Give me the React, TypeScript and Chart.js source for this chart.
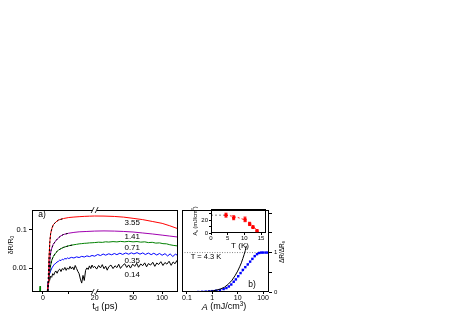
import React, { useEffect, useRef } from "react";
import { Chart, registerables } from "chart.js";
Chart.register(...registerables);

const FONT = '"Liberation Sans", Arial, sans-serif';

// ---------- Panel a (time traces) ----------
const redT = [1.5, 2, 2.3, 2.7, 3, 3.5, 4, 5, 6, 7, 8, 10, 12, 14, 16, 18, 20, 25, 32, 40, 50, 63, 80, 100, 120, 146];
const redV = [0.0015, 0.004, 0.015, 0.05, 0.08, 0.11, 0.135, 0.16, 0.18, 0.19, 0.198, 0.21, 0.216, 0.221, 0.225, 0.228, 0.23, 0.229, 0.224, 0.215, 0.2, 0.185, 0.165, 0.148, 0.128, 0.107];

const purT = [1.5, 2, 2.5, 2.8, 3.2, 4, 5, 6, 7, 8, 10, 12, 14, 17, 20, 25, 32, 40, 50, 63, 80, 100, 120, 146];
const purV = [0.0015, 0.003, 0.01, 0.02, 0.03, 0.042, 0.052, 0.062, 0.07, 0.076, 0.082, 0.086, 0.089, 0.091, 0.093, 0.094, 0.093, 0.091, 0.088, 0.083, 0.078, 0.073, 0.069, 0.065];

const grnT = [1.5, 2, 2.5, 3, 3.5, 4, 5, 6, 7, 8, 9, 10, 11, 12, 13, 14, 15, 16, 17, 18, 19, 20, 22, 24, 26, 28, 31, 34, 37, 41, 45, 50, 55, 60, 66, 72, 79, 86, 94, 102, 111, 120, 130, 146];
const grnV = [0.0015, 0.003, 0.007, 0.012, 0.0165, 0.02, 0.0255, 0.0295, 0.0325, 0.035, 0.0368, 0.0385, 0.0398, 0.041, 0.042, 0.0432, 0.0438, 0.0446, 0.045, 0.0458, 0.0461, 0.0467, 0.0478, 0.0472, 0.0489, 0.0481, 0.0495, 0.0486, 0.0501, 0.0489, 0.0503, 0.0488, 0.0497, 0.0479, 0.0488, 0.0466, 0.0474, 0.0452, 0.0458, 0.0437, 0.0433, 0.041, 0.0395, 0.038];

const bluT = [1.5, 2, 2.5, 3, 3.5, 4, 4.5, 5, 5.5, 6, 6.5, 7, 7.5, 8, 8.5, 9, 9.5, 10, 11, 12, 13, 14, 15, 16, 17, 18, 19, 20, 21.5, 23, 24.5, 26, 28, 30, 32, 34, 36.5, 39, 42, 45, 48, 51, 55, 59, 63, 67, 72, 77, 82, 88, 94, 100, 107, 114, 121, 129, 137, 146];
const bluV = [0.0015, 0.004, 0.0068, 0.0085, 0.0102, 0.0115, 0.0128, 0.0134, 0.0146, 0.0151, 0.0163, 0.0158, 0.0172, 0.0167, 0.018, 0.0174, 0.0186, 0.0179, 0.0192, 0.0185, 0.0198, 0.019, 0.0204, 0.0196, 0.021, 0.0201, 0.0215, 0.0206, 0.0228, 0.0214, 0.0235, 0.0219, 0.0238, 0.0224, 0.0242, 0.0226, 0.0247, 0.0229, 0.025, 0.0232, 0.0252, 0.0236, 0.0255, 0.0233, 0.0251, 0.0228, 0.0249, 0.0226, 0.0246, 0.0221, 0.0243, 0.0218, 0.024, 0.0209, 0.0237, 0.0202, 0.0232, 0.0215];

const blkT = [1.3, 1.5, 1.8, 2, 2.3, 2.6, 3, 3.4, 3.8, 4.2, 4.6, 5, 5.5, 6, 6.5, 7, 7.5, 8, 8.5, 9, 9.5, 10, 10.5, 11, 11.5, 12, 12.5, 13, 13.5, 14, 14.5, 15, 15.5, 16, 16.5, 17, 17.5, 18, 18.5, 19, 19.5, 20, 21, 22, 23, 24, 25, 26, 27, 28, 29.5, 31, 32.5, 34, 35.5, 37, 39, 41, 43, 45, 47, 49.5, 52, 54.5, 57, 60, 63, 66, 69, 72, 76, 80, 84, 88, 92, 97, 102, 107, 112, 118, 124, 130, 136, 142, 146];
const blkV = [0.001, 0.0015, 0.003, 0.0045, 0.0055, 0.0048, 0.0062, 0.0058, 0.0072, 0.0066, 0.0078, 0.0085, 0.0074, 0.0088, 0.0095, 0.0082, 0.0098, 0.0091, 0.0105, 0.0088, 0.0102, 0.0094, 0.0112, 0.0096, 0.0108, 0.0091, 0.0118, 0.0099, 0.0083, 0.0072, 0.0052, 0.0041, 0.0065, 0.0048, 0.0088, 0.0102, 0.0093, 0.0115, 0.0098, 0.0121, 0.0104, 0.0112, 0.0095, 0.0118, 0.0102, 0.0124, 0.0097, 0.0113, 0.0089, 0.0109, 0.0121, 0.0098, 0.0116, 0.0104, 0.0127, 0.0099, 0.0118, 0.0131, 0.0105, 0.0122, 0.0101, 0.0128, 0.0112, 0.0135, 0.0106, 0.0129, 0.0117, 0.0138, 0.0109, 0.0132, 0.0121, 0.0143, 0.0112, 0.0137, 0.0125, 0.0148, 0.0118, 0.0141, 0.0128, 0.0152, 0.0119, 0.0146, 0.0131, 0.0158, 0.0127];

const fitRedT = [1.8, 2, 2.3, 2.7, 3, 3.5, 4, 5, 6, 8];
const fitRedV = [0.002, 0.004, 0.015, 0.05, 0.08, 0.11, 0.135, 0.16, 0.18, 0.198];
const fitPurT = [1.8, 2, 2.5, 2.8, 3.2, 4, 5, 6, 7, 8, 10];
const fitPurV = [0.002, 0.003, 0.01, 0.02, 0.03, 0.042, 0.052, 0.062, 0.07, 0.076, 0.082];
const fitGrnT = [1.8, 2, 2.5, 3, 3.5, 4, 5, 6, 7, 8, 10, 12];
const fitGrnV = [0.002, 0.003, 0.007, 0.012, 0.0165, 0.02, 0.0255, 0.0295, 0.0325, 0.035, 0.0385, 0.041];

const spikeT = [-1.3, -1.1, -0.9];
const spikeV = [0.0022, 0.0034, 0.0022];

const aXTicks = [0, 10, 20, 50, 100];
const aXLabels = ["0", "", "20", "50", "100"];
const aYTicks = [0.01, 0.1];
const aYLabels = ["0.01", "0.1"];

const curveLabels = ["3.55", "1.41", "0.71", "0.35", "0.14"];
const curveLabelT = [49, 49, 49, 49, 49];
const curveLabelV = [0.151, 0.066, 0.0346, 0.016, 0.0066];

// ---------- Panel b (fluence dependence) ----------
const bPtA = [0.28, 0.4, 0.55, 0.75, 1, 1.4, 2, 2.8, 3.6, 4.5, 5.6, 7, 8.5, 10.5, 13, 16, 20, 25, 31, 38, 47, 58, 70, 85, 100, 125, 150];
const bPtV = [0.0, 0.005, 0.01, 0.015, 0.022, 0.032, 0.05, 0.075, 0.1, 0.14, 0.19, 0.26, 0.32, 0.4, 0.48, 0.56, 0.63, 0.7, 0.77, 0.84, 0.91, 0.96, 0.99, 1.0, 1.0, 1.0, 1.0];
const bFitA = [0.1, 0.3, 1, 2, 3, 5, 8, 12, 18, 25, 35, 50, 70, 90];
const bFitV = [0, 0.003, 0.02, 0.05, 0.085, 0.16, 0.3, 0.44, 0.58, 0.69, 0.8, 0.91, 0.98, 1.0];
const blkA = [0.1, 0.2, 0.5, 1, 2, 3, 4.3, 6, 8, 10, 12, 14, 16, 18, 20, 22];
const blkBV = [0, 0.003, 0.01, 0.025, 0.07, 0.12, 0.2, 0.3, 0.42, 0.53, 0.64, 0.74, 0.85, 0.95, 1.05, 1.17];
const satA = [0.064, 172];
const satV = [1, 1];
const bXTicks = [0.1, 1, 10, 100];
const bXLabels = ["0.1", "1", "10", "100"];
const bYTicks = [0, 0.5, 1, 1.5, 2];
const bYLabels = ["0", "", "1", "", ""];

// ---------- Inset (A_s vs T) ----------
const inT = [4.5, 6.8, 10.2, 11.6, 12.6, 13.8];
const inA = [27.5, 23.5, 21, 14, 9, 3.5];
const inErr = [3, 3, 3.5, 2.5, 2, 1.5];
const inFitT = [4.5, 6, 8, 10, 11, 12, 13, 13.7, 14.3, 14.6];
const inFitA = [27.5, 26.3, 24, 20.5, 17.5, 13.5, 8.5, 4.5, 1.2, 0];
const inBaseT = [0, 4.5];
const inBaseA = [27.5, 27.5];
const cXTicks = [0, 5, 10, 15];
const cYTicks = [0, 10, 20, 30];
const cYLabels = ["0", "", "20", ""];

// broken time axis: linear up to 20 ps, logarithmic afterwards
const K = 37.3;
const tx = (t: number) => (t <= 20 ? t : 20 + K * Math.log10(t / 20));

type Part = { t: string; sub?: boolean; sup?: boolean; italic?: boolean };
function drawRich(ctx: CanvasRenderingContext2D, parts: Part[], cx: number, cy: number, size: number, rot = 0) {
  ctx.save();
  ctx.translate(cx, cy);
  ctx.rotate(rot);
  const fontOf = (p: Part) => `${p.italic ? "italic " : ""}${p.sub || p.sup ? size * 0.7 : size}px ${FONT}`;
  let total = 0;
  for (const p of parts) {
    ctx.font = fontOf(p);
    total += ctx.measureText(p.t).width;
  }
  let x = -total / 2;
  ctx.textAlign = "left";
  ctx.textBaseline = "middle";
  ctx.fillStyle = "#000";
  for (const p of parts) {
    ctx.font = fontOf(p);
    const dy = p.sub ? size * 0.3 : p.sup ? -size * 0.35 : 0;
    ctx.fillText(p.t, x, dy);
    x += ctx.measureText(p.t).width;
  }
  ctx.restore();
}

const pts = (xs: number[], ys: number[], f = (v: number) => v) => xs.map((x, i) => ({ x: f(x), y: ys[i] }));

const lineDs = (data: any, color: string, extra: any = {}) => ({
  data,
  borderColor: color,
  backgroundColor: color,
  borderWidth: 1,
  pointRadius: 0,
  tension: 0,
  ...extra,
});

const axisGrid = (len: number) => ({
  display: true,
  drawOnChartArea: false,
  drawTicks: true,
  tickLength: len,
  color: "#000",
  tickColor: "#000",
});

function frame(chart: any) {
  const { ctx, chartArea: a } = chart;
  ctx.save();
  ctx.strokeStyle = "#000";
  ctx.lineWidth = 1;
  ctx.strokeRect(Math.round(a.left) + 0.5, Math.round(a.top) + 0.5, Math.round(a.right - a.left) - 1, Math.round(a.bottom - a.top) - 1);
  ctx.restore();
}

function configA(): any {
  const decor = {
    id: "decorA",
    afterDatasetsDraw(chart: any) {
      const { ctx, chartArea: a, scales } = chart;
      frame(chart);
      // break marks
      const bx = scales.x.getPixelForValue(20);
      for (const by of [a.top, a.bottom]) {
        ctx.save();
        ctx.fillStyle = "#fff";
        ctx.fillRect(bx - 2, by - 1.5, 4, 3);
        ctx.strokeStyle = "#000";
        ctx.lineWidth = 0.8;
        ctx.beginPath();
        ctx.moveTo(bx - 3.5, by + 3);
        ctx.lineTo(bx - 0.5, by - 3);
        ctx.moveTo(bx + 0.5, by + 3);
        ctx.lineTo(bx + 3.5, by - 3);
        ctx.stroke();
        ctx.restore();
      }
      // curve labels
      ctx.save();
      ctx.font = `8px ${FONT}`;
      ctx.fillStyle = "#000";
      ctx.textAlign = "center";
      ctx.textBaseline = "middle";
      curveLabels.forEach((s, i) => {
        ctx.fillText(s, scales.x.getPixelForValue(tx(curveLabelT[i])), scales.y.getPixelForValue(curveLabelV[i]));
      });
      ctx.restore();
      drawRich(ctx, [{ t: "a)" }], 42, 15, 8.5);
      drawRich(ctx, [{ t: "t" }, { t: "d", sub: true }, { t: " (ps)" }], 105, 106, 9.5);
      drawRich(ctx, [{ t: "δR/R" }, { t: "0", sub: true }], 11, 45, 7, -Math.PI / 2);
    },
  };
  return {
    type: "line",
    data: {
      datasets: [
        lineDs(pts(fitRedT, fitRedV, tx), "#000", { borderDash: [2, 2] }),
        lineDs(pts(fitPurT, fitPurV, tx), "#000", { borderDash: [2, 2] }),
        lineDs(pts(fitGrnT, fitGrnV, tx), "#000", { borderDash: [2, 2] }),
        lineDs(pts(redT, redV, tx), "#ff0000"),
        lineDs(pts(purT, purV, tx), "#a000b0"),
        lineDs(pts(grnT, grnV, tx), "#008000"),
        lineDs(pts(bluT, bluV, tx), "#0000ff"),
        lineDs(pts(blkT, blkV, tx), "#000000"),
        lineDs(pts(spikeT, spikeV, tx), "#008000"),
      ],
    },
    options: {
      responsive: false,
      animation: false,
      devicePixelRatio: 1,
      layout: { padding: { left: 0, top: 10, right: 4, bottom: 0 } },
      plugins: { legend: { display: false }, tooltip: { enabled: false } },
      scales: {
        x: {
          type: "linear",
          min: -4.2,
          max: tx(146),
          afterFit: (s: any) => { s.height = 20; },
          afterBuildTicks: (s: any) => { s.ticks = aXTicks.map((v) => ({ value: tx(v) })); },
          ticks: { callback: (_v: any, i: number) => aXLabels[i], font: { family: FONT, size: 7 }, color: "#000", padding: 0, maxRotation: 0, autoSkip: false },
          grid: axisGrid(2),
          border: { display: false },
        },
        y: {
          type: "logarithmic",
          min: 0.0024,
          max: 0.33,
          afterFit: (s: any) => { s.width = 32; },
          afterBuildTicks: (s: any) => { s.ticks = aYTicks.map((v) => ({ value: v })); },
          ticks: { callback: (_v: any, i: number) => aYLabels[i], font: { family: FONT, size: 7.5 }, color: "#000", padding: 2, autoSkip: false },
          grid: axisGrid(3),
          border: { display: false },
        },
      },
    },
    plugins: [decor],
  };
}

function configB(): any {
  const decor = {
    id: "decorB",
    afterDatasetsDraw(chart: any) {
      const { ctx } = chart;
      frame(chart);
      drawRich(ctx, [{ t: "A", italic: true }, { t: " (mJ/cm" }, { t: "3", sup: true }, { t: ")" }], 46, 107, 9);
      drawRich(ctx, [{ t: "ΔR/ΔR" }, { t: "s", sub: true }], 104, 52, 6.5, -Math.PI / 2);
      drawRich(ctx, [{ t: "T = 4.3 K" }], 28, 57, 7.5);
      drawRich(ctx, [{ t: "b)" }], 74, 85, 8.5);
    },
  };
  return {
    type: "line",
    data: {
      datasets: [
        lineDs(pts(blkA, blkBV), "#000000", { borderWidth: 1 }),
        lineDs(pts(bPtA, bPtV), "#0000ff", { showLine: false, pointRadius: 1.7, pointStyle: "rect", borderWidth: 0 }),
        lineDs(pts(bFitA, bFitV), "#4060ff", { borderDash: [1, 1.5] }),
        lineDs(pts(satA, satV), "#888888", { borderDash: [1, 1.5] }),
      ],
    },
    options: {
      responsive: false,
      animation: false,
      devicePixelRatio: 1,
      layout: { padding: { left: 4, top: 10, right: 178, bottom: 0 } },
      plugins: { legend: { display: false }, tooltip: { enabled: false } },
      scales: {
        x: {
          type: "logarithmic",
          min: 0.064,
          max: 172,
          afterFit: (s: any) => { s.height = 20; },
          afterBuildTicks: (s: any) => { s.ticks = bXTicks.map((v) => ({ value: v })); },
          ticks: { callback: (_v: any, i: number) => bXLabels[i], font: { family: FONT, size: 7 }, color: "#000", padding: 0, maxRotation: 0, autoSkip: false },
          grid: axisGrid(2),
          border: { display: false },
        },
        y: {
          type: "linear",
          position: "right",
          min: 0,
          max: 2.08,
          afterFit: (s: any) => { s.width = 16; },
          afterBuildTicks: (s: any) => { s.ticks = bYTicks.map((v) => ({ value: v })); },
          ticks: { callback: (_v: any, i: number) => bYLabels[i], font: { family: FONT, size: 6 }, color: "#000", padding: 2, autoSkip: false },
          grid: axisGrid(3),
          border: { display: false },
        },
      },
    },
    plugins: [decor],
  };
}

function configC(): any {
  const decor = {
    id: "decorC",
    afterDatasetsDraw(chart: any) {
      const { ctx, scales } = chart;
      frame(chart);
      // error bars
      ctx.save();
      ctx.strokeStyle = "#ff0000";
      ctx.lineWidth = 1;
      inT.forEach((t, i) => {
        const x = scales.x.getPixelForValue(t);
        const y1 = scales.y.getPixelForValue(inA[i] - inErr[i]);
        const y2 = scales.y.getPixelForValue(inA[i] + inErr[i]);
        ctx.beginPath();
        ctx.moveTo(x, y1);
        ctx.lineTo(x, y2);
        ctx.moveTo(x - 1.5, y1);
        ctx.lineTo(x + 1.5, y1);
        ctx.moveTo(x - 1.5, y2);
        ctx.lineTo(x + 1.5, y2);
        ctx.stroke();
      });
      ctx.restore();
      drawRich(ctx, [{ t: "T (K)" }], 54, 43, 8);
      drawRich(ctx, [{ t: "A" }, { t: "s", sub: true }, { t: " (mJ/cm" }, { t: "3", sup: true }, { t: ")" }], 9, 18, 5.5, -Math.PI / 2);
    },
  };
  return {
    type: "line",
    data: {
      datasets: [
        lineDs(pts(inT, inA), "#ff0000", { showLine: false, pointRadius: 1.8, pointStyle: "circle", borderWidth: 0 }),
        lineDs(pts(inFitT, inFitA), "#ff2020", { borderDash: [2, 2] }),
        lineDs(pts(inBaseT, inBaseA), "#808080", { borderDash: [2, 2] }),
      ],
    },
    options: {
      responsive: false,
      animation: false,
      devicePixelRatio: 1,
      layout: { padding: { left: 0, top: 6, right: 4, bottom: 0 } },
      plugins: { legend: { display: false }, tooltip: { enabled: false } },
      scales: {
        x: {
          type: "linear",
          min: 0,
          max: 16.5,
          afterFit: (s: any) => { s.height = 20; },
          afterBuildTicks: (s: any) => { s.ticks = cXTicks.map((v) => ({ value: v })); },
          ticks: { callback: (_v: any, i: number) => String(cXTicks[i]), font: { family: FONT, size: 6 }, color: "#000", padding: 0, maxRotation: 0, autoSkip: false },
          grid: axisGrid(2),
          border: { display: false },
        },
        y: {
          type: "linear",
          min: 0,
          max: 37,
          afterFit: (s: any) => { s.width = 25; },
          afterBuildTicks: (s: any) => { s.ticks = cYTicks.map((v) => ({ value: v })); },
          ticks: { callback: (_v: any, i: number) => cYLabels[i], font: { family: FONT, size: 6 }, color: "#000", padding: 1, autoSkip: false },
          grid: axisGrid(2),
          border: { display: false },
        },
      },
    },
    plugins: [decor],
  };
}

export default function App() {
  const aRef = useRef<HTMLCanvasElement>(null);
  const bRef = useRef<HTMLCanvasElement>(null);
  const cRef = useRef<HTMLCanvasElement>(null);
  useEffect(() => {
    const charts = [
      new Chart(aRef.current as HTMLCanvasElement, configA()),
      new Chart(bRef.current as HTMLCanvasElement, configB()),
      new Chart(cRef.current as HTMLCanvasElement, configC()),
    ];
    return () => charts.forEach((c) => c.destroy());
  }, []);
  return (
    <div style={{ position: "fixed", left: 0, top: 0, width: 463, height: 312, background: "#fff", overflow: "hidden" }}>
      <canvas ref={aRef} width={182} height={112} style={{ position: "absolute", left: 0, top: 200, width: 182, height: 112 }} />
      <canvas ref={bRef} width={285} height={112} style={{ position: "absolute", left: 178, top: 200, width: 285, height: 112 }} />
      <canvas ref={cRef} width={84} height={50} style={{ position: "absolute", left: 186, top: 203, width: 84, height: 50 }} />
    </div>
  );
}
